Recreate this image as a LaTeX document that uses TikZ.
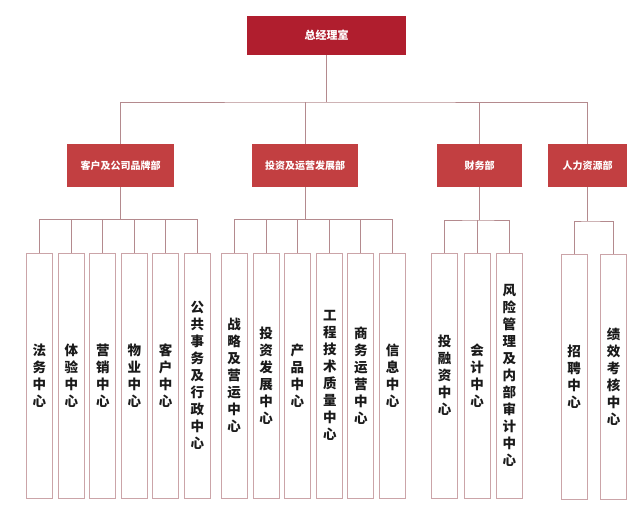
\documentclass[tikz,border=0pt]{standalone}
\usepackage{fontspec}
\setmainfont{Noto Sans CJK SC}
\usetikzlibrary{positioning}
\definecolor{crimson}{HTML}{B01E2E}
\definecolor{brick}{HTML}{C23F41}
\definecolor{wire}{HTML}{B48A8E}
\definecolor{rim}{HTML}{CBA4A8}
\definecolor{ink}{HTML}{1A1A1A}
\tikzset{
  head/.style={fill=#1, text=white, font=\bfseries\fontsize{10}{10}\selectfont,
    inner sep=0pt, align=center},
  head/.default=brick,
  ctr/.style={draw=rim, line width=1pt, fill=white, minimum width=26pt, minimum height=245pt,
    inner sep=0pt, text width=26pt, align=center, text=ink,
    font=\bfseries\fontsize{13.5}{17}\selectfont},
  link/.style={draw=wire, line width=1pt},
}

\begin{document}
\begin{tikzpicture}[x=1pt,y=-1pt]
  \useasboundingbox (0,0) rectangle (640,509);
  % top and departments
  \node[head=crimson, minimum width=159pt, minimum height=39pt,
    font=\bfseries\fontsize{11}{11}\selectfont] (gm) at (326.5,35.5) {总经理室};
  \node[head, minimum width=107pt, minimum height=43pt] (d1) at (120.5,165.5) {客户及公司品牌部};
  \node[head, minimum width=106pt, minimum height=43pt] (d2) at (305,165.5) {投资及运营发展部};
  \node[head, minimum width=85pt, minimum height=43pt] (d3) at (479.5,165.5) {财务部};
  \node[head, minimum width=79pt, minimum height=43pt] (d4) at (587.5,165.5) {人力资源部};
  \coordinate (bus) at (326.5,102);
  \draw[link] (gm.south) -- (bus);
  \draw[link] (d1.north) |- (bus) -| (d4.north);
  \foreach \d in {d2,d3} \draw[link] (\d.north) -- (\d.north |- bus);
  % centres
  \foreach \n/\x/\t in {l1/39.3/法\\务\\中\\心, l2/71.4/体\\验\\中\\心, l3/102.9/营\\销\\中\\心,
      l4/134.4/物\\业\\中\\心, l5/165.5/客\\户\\中\\心, l6/197.3/公\\共\\事\\务\\及\\行\\政\\中\\心,
      l7/234/战\\略\\及\\营\\运\\中\\心, l8/266/投\\资\\发\\展\\中\\心, l9/297.4/产\\品\\中\\心,
      l10/329.8/工\\程\\技\\术\\质\\量\\中\\心, l11/360.9/商\\务\\运\\营\\中\\心, l12/392.5/信\\息\\中\\心,
      l13/444.7/投\\融\\资\\中\\心, l14/477.2/会\\计\\中\\心,
      l15/509.4/风\\险\\管\\理\\及\\内\\部\\审\\计\\中\\心}
    \node[ctr] (\n) at (\x,375.5) {\t};
  \node[ctr] (l16) at (574.1,377) {招\\聘\\中\\心};
  \node[ctr] (l17) at (613.7,377) {绩\\效\\考\\核\\中\\心};
  % branches
  \coordinate (s1) at (120.5,219.5);
  \coordinate (s2) at (305,219.5);
  \coordinate (s3) at (479.5,220);
  \coordinate (s4) at (587.5,221);
  \foreach \d/\s in {d1/s1,d2/s2,d3/s3,d4/s4} \draw[link] (\d.south) -- (\s);
  \draw[link] (l1.north) |- (s1) -| (l6.north);
  \draw[link] (l7.north) |- (s2) -| (l12.north);
  \draw[link] (l13.north) |- (s3) -| (l15.north);
  \draw[link] (l16.north) |- (s4) -| (l17.north);
  \foreach \n/\s in {l2/s1,l3/s1,l4/s1,l5/s1,l8/s2,l9/s2,l10/s2,l11/s2,l14/s3}
    \draw[link] (\n.north) -- (\n.north |- \s);
\end{tikzpicture}
\end{document}
